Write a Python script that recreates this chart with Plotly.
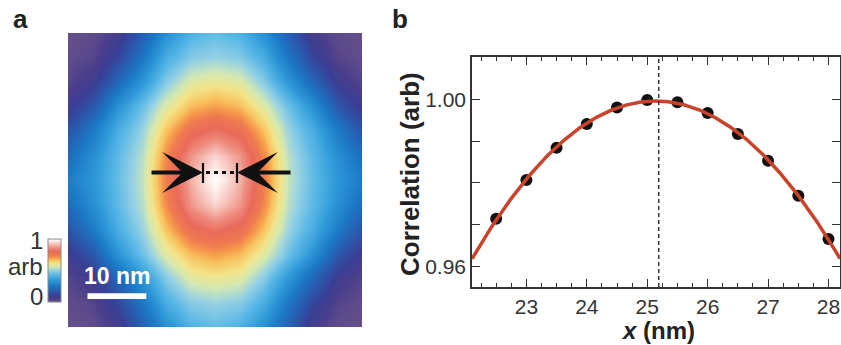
import numpy as np
import plotly.graph_objects as go

# ---------------- panel a: correlation map (arb) ----------------
# 13 x 13 samples spanning a 50 nm x 50 nm field (row 0 = top edge)
map_extent_nm = 50.0
map_rows = [
    [0.00, 0.01, 0.06, 0.19, 0.32, 0.41, 0.44, 0.41, 0.32, 0.19, 0.06, 0.01, 0.00],
    [0.01, 0.03, 0.12, 0.25, 0.40, 0.48, 0.50, 0.48, 0.40, 0.25, 0.12, 0.03, 0.01],
    [0.03, 0.08, 0.21, 0.34, 0.48, 0.58, 0.60, 0.58, 0.48, 0.34, 0.21, 0.08, 0.03],
    [0.08, 0.17, 0.33, 0.45, 0.58, 0.67, 0.70, 0.67, 0.58, 0.45, 0.33, 0.17, 0.08],
    [0.16, 0.27, 0.40, 0.50, 0.66, 0.78, 0.82, 0.78, 0.66, 0.50, 0.40, 0.27, 0.16],
    [0.23, 0.32, 0.43, 0.53, 0.72, 0.87, 0.94, 0.87, 0.72, 0.53, 0.43, 0.32, 0.23],
    [0.27, 0.34, 0.44, 0.54, 0.74, 0.90, 1.00, 0.90, 0.74, 0.54, 0.44, 0.34, 0.27],
    [0.23, 0.32, 0.43, 0.53, 0.72, 0.87, 0.94, 0.87, 0.72, 0.53, 0.43, 0.32, 0.23],
    [0.16, 0.27, 0.40, 0.50, 0.66, 0.78, 0.82, 0.78, 0.66, 0.50, 0.40, 0.27, 0.16],
    [0.08, 0.17, 0.33, 0.45, 0.58, 0.67, 0.70, 0.67, 0.58, 0.45, 0.33, 0.17, 0.08],
    [0.03, 0.08, 0.21, 0.34, 0.48, 0.58, 0.60, 0.58, 0.48, 0.34, 0.21, 0.08, 0.03],
    [0.01, 0.03, 0.12, 0.25, 0.40, 0.48, 0.50, 0.48, 0.40, 0.25, 0.12, 0.03, 0.01],
    [0.00, 0.01, 0.06, 0.19, 0.32, 0.41, 0.44, 0.41, 0.32, 0.19, 0.06, 0.01, 0.00],
]
scale_bar_nm = 10.0
scale_bar_label = "10 nm"
colorbar_labels = ["1", "arb", "0"]

# ---------------- panel b: correlation vs displacement ----------------
x_nm = [22.5, 23.0, 23.5, 24.0, 24.5, 25.0, 25.5, 26.0, 26.5, 27.0, 27.5, 28.0]
corr = [0.9714, 0.9807, 0.9884, 0.9941, 0.9980, 0.9998,
        0.9993, 0.9967, 0.9917, 0.9853, 0.9769, 0.9666]
peak_x_nm = 25.19  # marked maximum of the fit
x_tick_vals = [23, 24, 25, 26, 27, 28]
y_tick_vals = [0.96, 1.00]
y_tick_text = ["0.96", "1.00"]
y_minor_vals = [0.97, 0.98, 0.99]

FONT = "Liberation Sans, Arial, Helvetica, sans-serif"
W, H = 841, 345

# colour map: mauve -> indigo -> blue -> cyan -> yellow -> orange -> red -> white
cmap = [
    [0.00, "#66508a"],
    [0.05, "#4a3f8c"],
    [0.10, "#393f95"],
    [0.17, "#2a58ac"],
    [0.26, "#1b78c6"],
    [0.35, "#2f9ad8"],
    [0.43, "#5ab8e6"],
    [0.50, "#98d2e2"],
    [0.56, "#d4e8b0"],
    [0.61, "#f2e48a"],
    [0.66, "#f8c460"],
    [0.70, "#f59a4a"],
    [0.74, "#ef7a50"],
    [0.80, "#e96a5a"],
    [0.86, "#ee8e80"],
    [0.92, "#f6c4bc"],
    [0.97, "#fdeeea"],
    [1.00, "#ffffff"],
]

n = len(map_rows)
grid = np.linspace(0, map_extent_nm, n)

fig = go.Figure()

fig.add_trace(go.Heatmap(
    z=map_rows, x=grid, y=grid, zmin=0, zmax=1,
    colorscale=cmap, zsmooth="best",
    xaxis="x", yaxis="y",
    colorbar=dict(
        x=48 / W, xanchor="left", xpad=0,
        y=(H - 270.5) / H, yanchor="middle", ypad=0,
        lenmode="pixels", len=63, thickness=13,
        outlinecolor="#8a8a8a", outlinewidth=1,
        showticklabels=False, ticks="",
    ),
))

# fitted curve through the measured points
coef = np.polyfit(x_nm, corr, 3)
x_lo, x_hi = 22.1, 28.19
xf = np.linspace(x_lo, x_hi, 400)
yf = np.polyval(coef, xf)

fig.add_trace(go.Scatter(
    x=x_nm, y=corr, mode="markers",
    marker=dict(color="#111111", size=12),
    xaxis="x2", yaxis="y2", showlegend=False, hoverinfo="skip",
))
fig.add_trace(go.Scatter(
    x=xf, y=yf, mode="lines",
    line=dict(color="#c9432b", width=3.5),
    xaxis="x2", yaxis="y2", showlegend=False, hoverinfo="skip",
))

axis_col = "#333333"
fig.update_layout(
    width=W, height=H,
    margin=dict(l=0, r=0, t=0, b=0),
    paper_bgcolor="white", plot_bgcolor="white",
    font=dict(family=FONT, color="#333333"),
    showlegend=False,
    xaxis=dict(domain=[68 / W, 362 / W], range=[0, map_extent_nm], visible=False,
               anchor="y"),
    yaxis=dict(domain=[18 / H, 312 / H], range=[map_extent_nm, 0], visible=False,
               anchor="x"),
    xaxis2=dict(
        domain=[472 / W, 840 / W], range=[x_lo, x_hi], anchor="y2",
        showline=True, linecolor=axis_col, linewidth=1.6, mirror="ticks",
        ticks="inside", ticklen=8, tickwidth=1.4, tickcolor=axis_col,
        tickvals=x_tick_vals, showgrid=False, zeroline=False,
        tickfont=dict(size=21, color="#333333", family=FONT),
        minor=dict(dtick=0.25, tick0=0, ticks="inside", ticklen=4,
                   tickwidth=1.2, tickcolor=axis_col, showgrid=False),
    ),
    yaxis2=dict(
        domain=[58 / H, 288 / H], range=[0.9551, 1.0101], anchor="x2",
        showline=True, linecolor=axis_col, linewidth=1.6, mirror="ticks",
        ticks="inside", ticklen=8, tickwidth=1.4, tickcolor=axis_col,
        tickvals=y_tick_vals, ticktext=y_tick_text,
        showgrid=False, zeroline=False,
        tickfont=dict(size=21, color="#333333", family=FONT),
        minor=dict(tickmode="array", tickvals=y_minor_vals, ticks="inside",
                   ticklen=8, tickwidth=1.4, tickcolor=axis_col, showgrid=False),
    ),
)

# ---- panel a decorations (map coordinates in nm) ----
px = map_extent_nm / 294.0  # nm per screen pixel
def mx(p):
    return (p - 68) * px
def my(p):
    return (p - 33) * px

y_arrow = my(172.5)
shapes = [
    # end markers of the measured shift
    dict(type="line", xref="x", yref="y", x0=mx(203), x1=mx(203), y0=my(163), y1=my(183),
         line=dict(color="#111111", width=2.2)),
    dict(type="line", xref="x", yref="y", x0=mx(237), x1=mx(237), y0=my(163), y1=my(183),
         line=dict(color="#111111", width=2.2)),
    dict(type="line", xref="x", yref="y", x0=mx(206), x1=mx(235), y0=y_arrow, y1=y_arrow,
         line=dict(color="#111111", width=3, dash="4px,4px")),
    # scale bar
    dict(type="rect", xref="x", yref="y", x0=mx(87.5), x1=mx(87.5) + scale_bar_nm,
         y0=my(293.3), y1=my(299), line=dict(width=0), fillcolor="white"),
    # peak position in panel b
    dict(type="line", xref="x2", yref="y2 domain", x0=peak_x_nm, x1=peak_x_nm, y0=0, y1=1,
         line=dict(color="#333333", width=1.5, dash="4px,3px")),
]
fig.update_layout(shapes=shapes)

ann = []
for tip, tail in [(203, 150), (237, 292)]:
    ann.append(dict(
        x=mx(tip), y=y_arrow, ax=mx(tail), ay=y_arrow,
        xref="x", yref="y", axref="x", ayref="y",
        text="", showarrow=True, arrowhead=3, arrowsize=1.7, arrowwidth=4,
        arrowcolor="#111111",
    ))

ann.append(dict(x=mx(87.5) + scale_bar_nm / 2, y=my(276), xref="x", yref="y",
                text="<b>" + scale_bar_label + "</b>", showarrow=False,
                font=dict(size=23, color="white", family=FONT),
                xanchor="center", yanchor="middle"))

# colour bar labels
for lab, yy in zip(colorbar_labels, [240.5, 266, 296.5]):
    ann.append(dict(x=45 / W, y=(H - yy) / H, xref="paper", yref="paper",
                    text=lab, showarrow=False, xanchor="right", yanchor="middle",
                    font=dict(size=24, color="#333333", family=FONT)))

# panel letters
ann.append(dict(x=11 / W, y=(H - 19) / H, xref="paper", yref="paper", text="<b>a</b>",
                showarrow=False, xanchor="left", yanchor="middle",
                font=dict(size=26, color="#222222", family=FONT)))
ann.append(dict(x=390 / W, y=(H - 19) / H, xref="paper", yref="paper", text="<b>b</b>",
                showarrow=False, xanchor="left", yanchor="middle",
                font=dict(size=26, color="#222222", family=FONT)))

# axis titles of panel b
ann.append(dict(x=410 / W, y=(H - 174) / H, xref="paper", yref="paper",
                text="<b>Correlation (arb)</b>", textangle=-90, showarrow=False,
                xanchor="center", yanchor="middle",
                font=dict(size=26, color="#222222", family=FONT)))
ann.append(dict(x=658 / W, y=(H - 330) / H, xref="paper", yref="paper",
                text="<b><i>x</i> (nm)</b>", showarrow=False,
                xanchor="center", yanchor="middle",
                font=dict(size=24, color="#222222", family=FONT)))

fig.update_layout(annotations=ann)

fig.write_html("out.html")
